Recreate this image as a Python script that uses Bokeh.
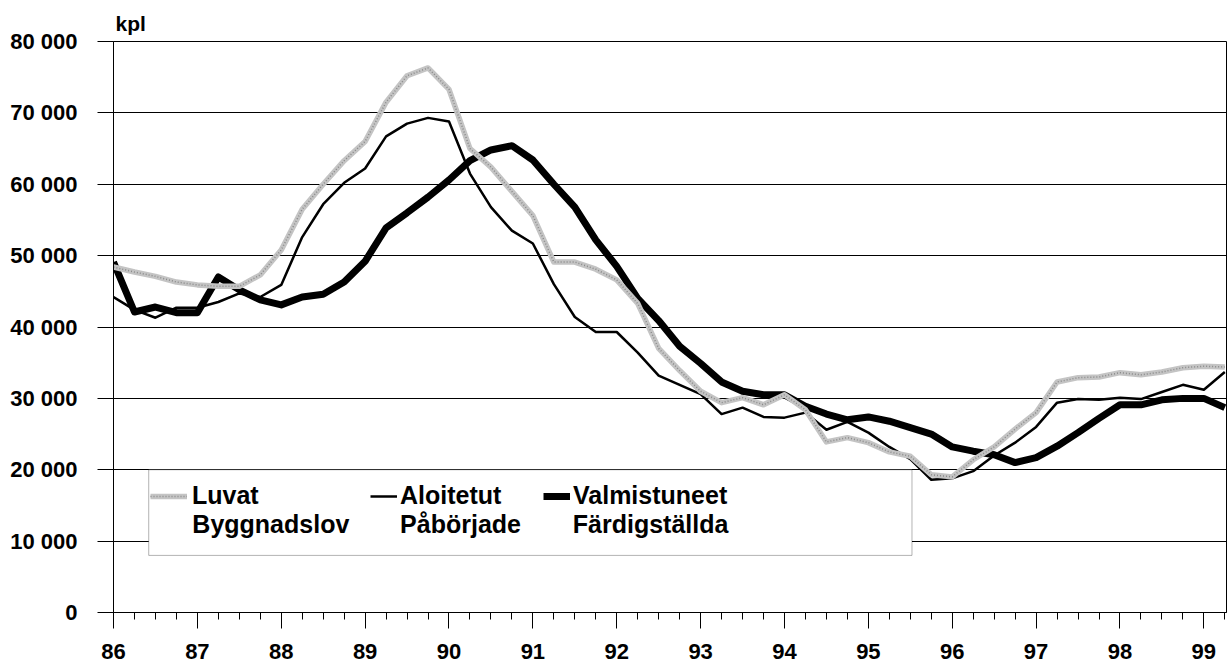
from bokeh.plotting import figure
from bokeh.models import Range1d, FixedTicker, Legend, LegendItem, Label, BoxAnnotation, Title
from bokeh.embed import file_html
from bokeh.resources import INLINE

# ---- data (quarterly, 1986 Q1 .. 1999 Q2), dwellings (kpl) ----
years = [86]*4 + [87]*4 + [88]*4 + [89]*4 + [90]*4 + [91]*4 + [92]*4 + [93]*4 + \
        [94]*4 + [95]*4 + [96]*4 + [97]*4 + [98]*4 + [99]*2
quarters = [1, 2, 3, 4]*13 + [1, 2]

luvat = [48400, 47700, 47100, 46300, 45900, 45700, 45700, 47300,
         50800, 56500, 60000, 63300, 66000, 71500, 75200, 76300,
         73300, 65000, 62400, 59000, 55600, 49100, 49100, 48100,
         46600, 43300, 37000, 33900, 31000, 29400, 30100, 29100,
         30500, 28400, 23900, 24500, 23800, 22500, 21900, 19300,
         19000, 21400, 23200, 25700, 28000, 32300, 32900, 33000,
         33600, 33300, 33700, 34300, 34500, 34400]

aloitetut = [44200, 42400, 41300, 42700, 42700, 43500, 44700, 44200,
             45900, 52600, 57200, 60200, 62200, 66700, 68500, 69300,
             68800, 61500, 56800, 53500, 51700, 46000, 41400, 39300,
             39300, 36400, 33200, 31900, 30600, 27800, 28700, 27400,
             27300, 28000, 25600, 26700, 25200, 23200, 21500, 18600,
             18800, 19800, 22000, 23800, 26000, 29400, 29900, 29800,
             30100, 29900, 30900, 31900, 31200, 33700]

valmistuneet = [49100, 42100, 42800, 42000, 42000, 47000, 45200, 43800,
                43100, 44200, 44600, 46300, 49200, 53900, 56000, 58200,
                60600, 63300, 64800, 65400, 63400, 60000, 56800, 52200,
                48500, 44000, 40900, 37300, 34900, 32300, 31000, 30500,
                30500, 28900, 27800, 27000, 27400, 26800, 25900, 25000,
                23200, 22600, 22100, 21000, 21700, 23300, 25200, 27200,
                29100, 29100, 29800, 30000, 30000, 28700]

x_ticks = [86, 87, 88, 89, 90, 91, 92, 93, 94, 95, 96, 97, 98, 99]
x_tick_labels = ["86", "87", "88", "89", "90", "91", "92", "93", "94", "95", "96", "97", "98", "99"]
y_ticks = [0, 10000, 20000, 30000, 40000, 50000, 60000, 70000, 80000]
y_tick_labels = ["0", "10 000", "20 000", "30 000", "40 000", "50 000", "60 000", "70 000", "80 000"]

names_fi = ["Luvat", "Aloitetut", "Valmistuneet"]
names_sv = ["Byggnadslov", "Påbörjade", "Färdigställda"]
unit_label = "kpl"

x = [y + (q - 1) / 4 for y, q in zip(years, quarters)]
minor = [t + k / 4 for t in x_ticks for k in range(4)]

FONT = "Liberation Sans"

p = figure(width=1230, height=669, output_backend="svg", toolbar_location=None,
           x_range=Range1d(86, 99.27), y_range=Range1d(0, 80000),
           min_border_left=113, min_border_right=4, min_border_top=41, min_border_bottom=57)

title = Title(text=unit_label, align="left", offset=2, standoff=14,
              text_font=FONT, text_font_style="bold", text_font_size="21px",
              text_color="black")
p.add_layout(title, "above")

p.background_fill_color = "white"
p.outline_line_color = "black"
p.outline_line_width = 1
p.xgrid.visible = False
p.ygrid.ticker = FixedTicker(ticks=y_ticks)
p.ygrid.grid_line_color = "black"
p.ygrid.grid_line_width = 1

# axes
p.xaxis.ticker = FixedTicker(ticks=x_ticks, minor_ticks=minor)
p.xaxis.major_label_overrides = {t: l for t, l in zip(x_ticks, x_tick_labels)}
p.yaxis.ticker = FixedTicker(ticks=y_ticks)
p.yaxis.major_label_overrides = {t: l for t, l in zip(y_ticks, y_tick_labels)}
for ax in (p.xaxis, p.yaxis):
    ax.axis_line_color = "black"
    ax.major_tick_line_color = "black"
    ax.minor_tick_line_color = "black"
    ax.major_tick_in = 0
    ax.major_tick_out = 16
    ax.minor_tick_in = 0
    ax.major_label_text_font = FONT
    ax.major_label_text_font_style = "bold"
    ax.major_label_text_font_size = "22px"
    ax.major_label_text_color = "black"
p.xaxis.minor_tick_out = 7
p.yaxis.minor_tick_line_color = None
p.xaxis.major_label_standoff = 15
p.yaxis.major_label_standoff = 20

# series
r_val = p.line(x, valmistuneet, line_color="black", line_width=7, line_join="round")
r_alo = p.line(x, aloitetut, line_color="black", line_width=2.5, line_join="round")
r_luv = p.line(x, luvat, line_color="#c4c4c4", line_width=5.5, line_join="round")
r_luv2 = p.line(x, luvat, line_color="#8a8a8a", line_width=1.5, line_dash="1 2")

# legend box
p.add_layout(BoxAnnotation(left=86.42, right=95.52, bottom=8000, top=20000,
                           fill_color="white", fill_alpha=1.0,
                           line_color="black", line_width=1))

legend_specs = [
    (names_fi[0], [r_luv, r_luv2], 37, 37, 5),
    (names_fi[1], [r_alo], 257, 27, 3),
    (names_fi[2], [r_val], 430, 27, 3),
]
for label, rends, lx, gw, so in legend_specs:
    lg = Legend(items=[LegendItem(label=label, renderers=rends)],
                location=(lx, 102), orientation="horizontal",
                padding=0, margin=0, spacing=0,
                border_line_alpha=0, background_fill_alpha=0,
                glyph_width=gw, glyph_height=20, label_height=20, label_standoff=so,
                label_text_font=FONT, label_text_font_style="bold",
                label_text_font_size="25px", label_text_color="black")
    p.add_layout(lg)

for label, lx in zip(names_sv, [86.940, 89.417, 91.476]):
    p.add_layout(Label(x=lx, y=12330, text=label, text_font=FONT, text_font_style="bold",
                       text_font_size="25px", text_baseline="alphabetic", text_color="black"))

open("out.html", "w").write(file_html(p, INLINE))
